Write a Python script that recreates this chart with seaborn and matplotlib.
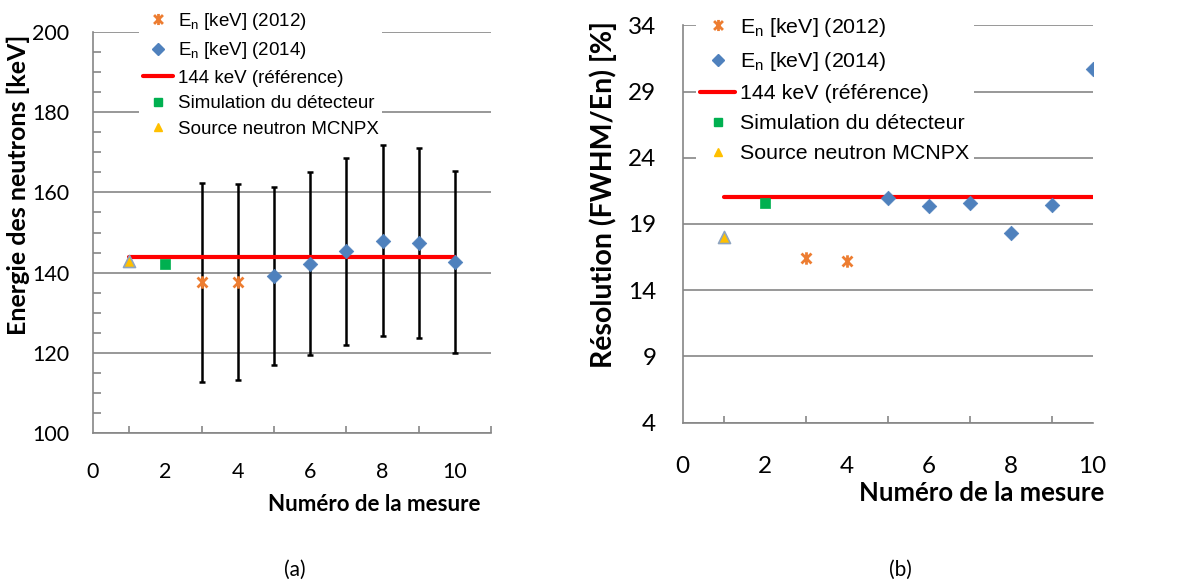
import numpy as np
import pandas as pd
import seaborn as sns
import matplotlib.pyplot as plt
from matplotlib.path import Path
from matplotlib.lines import Line2D
from matplotlib.ticker import MultipleLocator

# --- data ---
mesure_2012 = [3, 4]
mesure_2014 = [5, 6, 7, 8, 9, 10]
ref_x = [1, 10]
simu_x = [2]
source_x = [1]

# (a) energie des neutrons [keV]
energie_2012 = [137.6, 137.6]
err_2012 = [24.8, 24.4]
energie_2014 = [139.1, 142.2, 145.3, 148.0, 147.3, 142.7]
err_2014 = [22.2, 22.8, 23.3, 23.7, 23.7, 22.7]
ref_energie = [144, 144]
simu_energie = [142.2]
source_energie = [143.0]

# (b) resolution FWHM/En [%]
resol_2012 = [16.4, 16.2]
resol_2014 = [20.96, 20.36, 20.6, 18.3, 20.46, 30.7]
ref_resol = [21.0, 21.0]
simu_resol = [20.6]
source_resol = [18.0]

labels = ["E$_\\mathregular{n}$ [keV] (2012)", "E$_\\mathregular{n}$ [keV] (2014)",
          "144 keV (référence)", "Simulation du détecteur", "Source neutron MCNPX"]

ORANGE = "#ED7D31"
BLUE = "#4F81BD"
GREEN = "#00B050"
YELLOW = "#FFC000"
RED = "#FF0000"
GRID = "#868686"

# excel style star: X with a vertical bar
star = Path([(0, -1), (0, 1), (-0.8, -0.8), (0.8, 0.8), (-0.8, 0.8), (0.8, -0.8)],
            [Path.MOVETO, Path.LINETO, Path.MOVETO, Path.LINETO, Path.MOVETO, Path.LINETO])

sns.set_theme(style="white")
plt.rcParams['font.family'] = ['Lato', 'DejaVu Sans']
plt.rcParams['mathtext.fontset'] = 'custom'
plt.rcParams['mathtext.rm'] = 'Liberation Sans'
for k in ['text.color', 'axes.labelcolor', 'xtick.labelcolor', 'ytick.labelcolor']:
    plt.rcParams[k] = 'black'

fig = plt.figure(figsize=(11.9, 5.83), dpi=100)
ax1 = fig.add_axes([0.0782, 0.2573, 0.3345, 0.6878])
ax2 = fig.add_axes([0.5737, 0.275, 0.3445, 0.6816])


def draw(ax, y12, y14, yref, ysim, ysrc, errs=None):
    if errs is not None:
        ax.errorbar(mesure_2012 + mesure_2014, y12 + y14, yerr=errs, fmt='none',
                    ecolor='black', elinewidth=1.8, capsize=2.5, capthick=1.8, zorder=2)
    ax.plot(ref_x, yref, color=RED, lw=3, zorder=3)
    sns.scatterplot(x=mesure_2012, y=y12, ax=ax, marker=star, s=80, color=ORANGE,
                    edgecolor=ORANGE, linewidth=2, zorder=4)
    sns.scatterplot(x=mesure_2014, y=y14, ax=ax, marker='D', s=55, color=BLUE,
                    edgecolor=BLUE, linewidth=0.5, zorder=4)
    sns.scatterplot(x=simu_x, y=ysim, ax=ax, marker='s', s=55, color=GREEN,
                    edgecolor=GREEN, linewidth=0.5, zorder=4)
    sns.scatterplot(x=source_x, y=ysrc, ax=ax, marker='^', s=75, color=YELLOW,
                    edgecolor='#8EA4C0', linewidth=1.2, zorder=5)
    for s in ['top', 'right']:
        ax.spines[s].set_visible(False)
    for s in ['left', 'bottom']:
        ax.spines[s].set_color(GRID)
        ax.spines[s].set_linewidth(1.2)
    ax.grid(axis='y', color=GRID, lw=1.2)
    ax.set_axisbelow(True)
    ax.xaxis.set_major_locator(MultipleLocator(2))
    ax.xaxis.set_minor_locator(MultipleLocator(1))
    ax.tick_params(axis='x', which='major', direction='inout', length=10, color=GRID, width=1.2)
    ax.tick_params(axis='x', which='minor', direction='in', length=5, color=GRID, width=1.2, bottom=True)


def legend(ax, x, y, fs, spacing):
    handles = [
        Line2D([], [], ls='none', marker=star, ms=8, mec=ORANGE, mew=2),
        Line2D([], [], ls='none', marker='D', ms=6, color=BLUE),
        Line2D([], [], color=RED, lw=3),
        Line2D([], [], ls='none', marker='s', ms=6, color=GREEN),
        Line2D([], [], ls='none', marker='^', ms=6, color=YELLOW),
    ]
    leg = ax.legend(handles, labels, loc='upper left', bbox_to_anchor=(x, y),
                    bbox_transform=fig.transFigure, frameon=True, framealpha=1,
                    facecolor='white', edgecolor='none', fancybox=False,
                    prop={'family': 'Liberation Sans', 'size': fs},
                    handlelength=1.6, handletextpad=0.25, labelspacing=spacing,
                    borderpad=0.2, borderaxespad=0)
    leg.set_zorder(10)


# (a)
draw(ax1, energie_2012, energie_2014, ref_energie, simu_energie, source_energie,
     errs=err_2012 + err_2014)
ax1.set_xlim(0, 11)
ax1.set_ylim(100, 200)
ax1.set_xticks([0, 2, 4, 6, 8, 10])
ax1.yaxis.set_major_locator(MultipleLocator(20))
ax1.yaxis.set_minor_locator(MultipleLocator(5))
ax1.tick_params(axis='y', which='major', direction='out', length=6, color=GRID, width=1.2,
                labelsize=15.5, pad=11)
ax1.tick_params(axis='y', which='minor', direction='in', length=6, color=GRID, width=1.2, left=True)
ax1.tick_params(axis='x', which='major', labelsize=15.5, pad=16)
ax1.set_ylabel("Energie des neutrons [keV]", fontsize=18, fontweight='bold')
ax1.yaxis.set_label_coords(-0.158, 0.62)
ax1.set_xlabel("Numéro de la mesure", fontsize=16, fontweight='bold')
ax1.xaxis.set_label_coords(0.706, -0.152)
legend(ax1, 0.117, 0.988, 13.5, 0.45)

# (b)
draw(ax2, resol_2012, resol_2014, ref_resol, simu_resol, source_resol)
ax2.set_xlim(0, 10)
ax2.set_ylim(4, 34)
ax2.set_yticks([4, 9, 14, 19, 24, 29, 34])
ax2.tick_params(axis='y', which='major', direction='out', length=10, color=GRID, width=1.2,
                labelsize=17.5, pad=9)
ax2.tick_params(axis='x', which='major', labelsize=17.5, pad=19)
ax2.set_ylabel("Résolution (FWHM/En) [%]", fontsize=20.5, fontweight='bold')
ax2.yaxis.set_label_coords(-0.16, 0.575)
ax2.set_xlabel("Numéro de la mesure", fontsize=18.5, fontweight='bold')
ax2.xaxis.set_label_coords(0.728, -0.147)
legend(ax2, 0.585, 0.98, 15.4, 0.52)

fig.text(295 / 1190, 1 - 570 / 583, "(a)", ha='center', va='center', fontsize=15)
fig.text(900 / 1190, 1 - 570 / 583, "(b)", ha='center', va='center', fontsize=15)

fig.savefig("out.png", dpi=100)
